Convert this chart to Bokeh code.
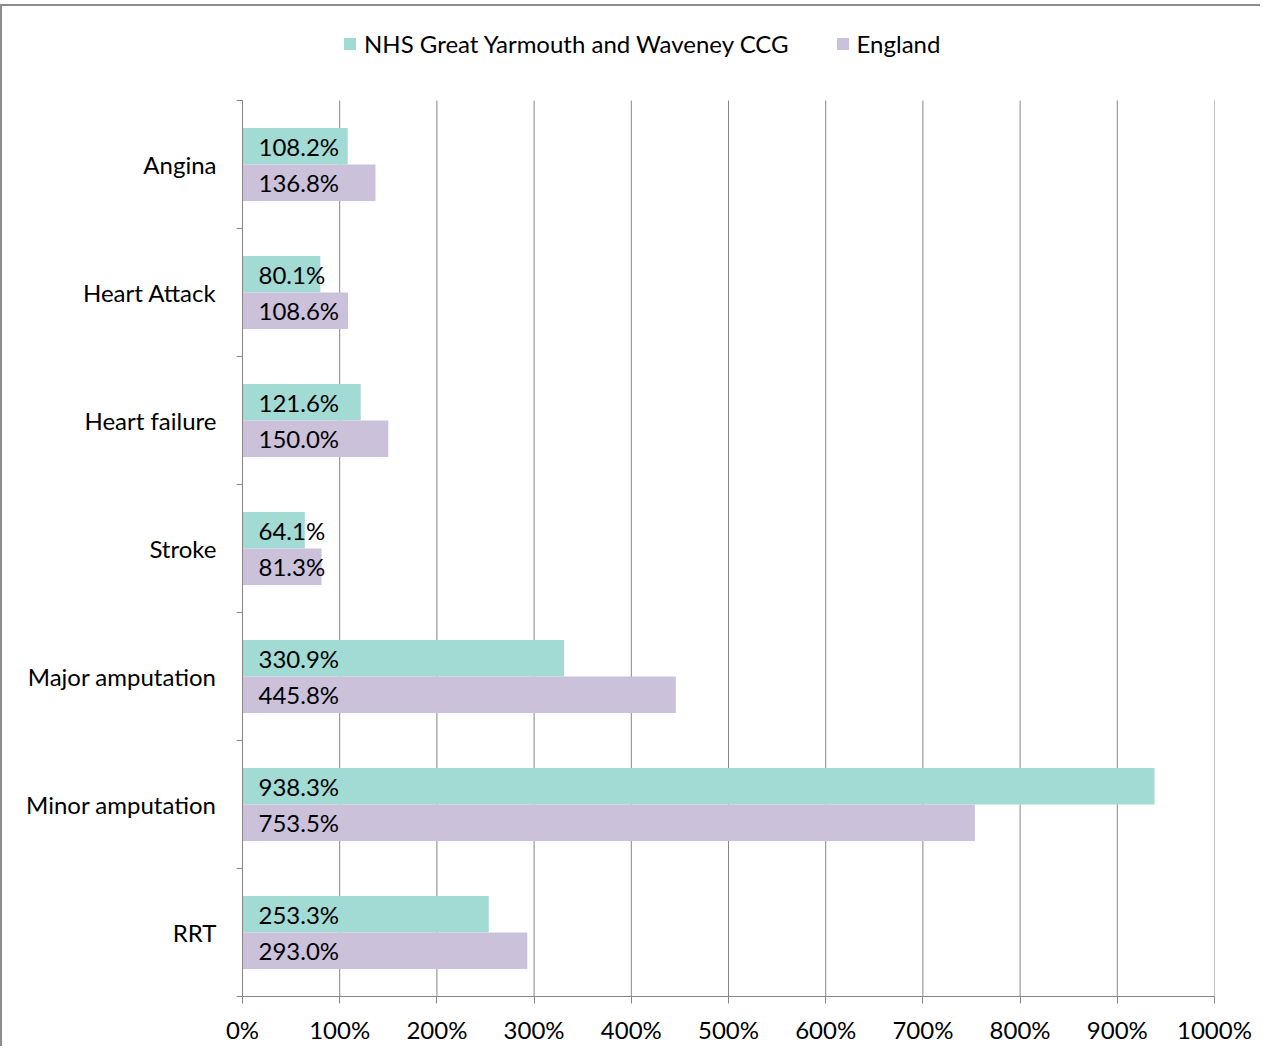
from bokeh.plotting import figure
from bokeh.models import (ColumnDataSource, Range1d, FixedTicker, Legend, LegendItem)
from bokeh.core.properties import value
from bokeh.embed import file_html
from bokeh.resources import INLINE

categories = ["Angina", "Heart Attack", "Heart failure", "Stroke",
              "Major amputation", "Minor amputation", "RRT"]
ccg_values = [108.2, 80.1, 121.6, 64.1, 330.9, 938.3, 253.3]
england_values = [136.8, 108.6, 150.0, 81.3, 445.8, 753.5, 293.0]
series_names = ["NHS Great Yarmouth and Waveney CCG", "England"]
x_ticks = [0, 100, 200, 300, 400, 500, 600, 700, 800, 900, 1000]
x_tick_labels = ["0%", "100%", "200%", "300%", "400%", "500%", "600%",
                 "700%", "800%", "900%", "1000%"]

FONT = "Lato"
FS = "24px"
TEAL = "#A2DAD4"
PURPLE = "#CCC1DB"
GRAY = "#868686"

n = len(categories)
centers = [n - 0.5 - i for i in range(n)]
off = 0.1425
bh = 0.285
top_room = 0.625  # space above the bars for the legend

src_ccg = ColumnDataSource(dict(
    y=[c + off for c in centers], v=ccg_values,
    lab=["%.1f%%" % v for v in ccg_values]))
src_eng = ColumnDataSource(dict(
    y=[c - off for c in centers], v=england_values,
    lab=["%.1f%%" % v for v in england_values]))

p = figure(frame_width=972, frame_height=976, output_backend="svg",
           toolbar_location=None,
           x_range=Range1d(0, 1000), y_range=Range1d(0, n + top_room),
           min_border_left=240, min_border_right=46,
           min_border_top=14, min_border_bottom=50)
p.outline_line_color = None
p.background_fill_color = "white"
p.border_fill_color = "white"
p.styles = {"border-top": "2px solid #8C8C8C", "border-left": "2px solid #8C8C8C",
            "margin-top": "4px"}

# vertical gridlines, limited to the category area
grid_src = ColumnDataSource(dict(x=x_ticks, y0=[0] * len(x_ticks),
                                 y1=[n] * len(x_ticks)))
p.segment(x0="x", y0="y0", x1="x", y1="y1", source=grid_src,
          line_color=GRAY, line_width=1, level="underlay")

r1 = p.hbar(y="y", left=0, right="v", height=bh, source=src_ccg,
            fill_color=TEAL, line_color=None)
r2 = p.hbar(y="y", left=0, right="v", height=bh, source=src_eng,
            fill_color=PURPLE, line_color=None)

for s in (src_ccg, src_eng):
    p.text(x=0, y="y", text="lab", source=s, x_offset=16,
           text_font=value(FONT), text_font_size=FS, text_color="black",
           text_baseline="middle", text_align="left")

# x axis
xa = p.xaxis[0]
xa.ticker = FixedTicker(ticks=x_ticks)
xa.major_label_overrides = {t: l for t, l in zip(x_ticks, x_tick_labels)}
xa.axis_line_color = GRAY
xa.major_tick_line_color = GRAY
xa.major_tick_out = 7
xa.major_tick_in = 0
xa.minor_tick_line_color = None
xa.major_label_standoff = 11
xa.major_label_text_font = FONT
xa.major_label_text_font_size = FS
xa.major_label_text_color = "black"

# y axis
ya = p.yaxis[0]
ya.bounds = (0, n)
ya.ticker = FixedTicker(ticks=centers, minor_ticks=list(range(0, n + 1)))
ya.major_label_overrides = {c: cat for c, cat in zip(centers, categories)}
ya.axis_line_color = GRAY
ya.major_tick_line_color = None
ya.major_tick_out = 0
ya.major_tick_in = 0
ya.minor_tick_line_color = GRAY
ya.minor_tick_out = 6
ya.minor_tick_in = 0
ya.major_label_standoff = 20
ya.major_label_text_font = FONT
ya.major_label_text_font_size = FS
ya.major_label_text_color = "black"

p.xgrid.grid_line_color = None
p.ygrid.grid_line_color = None

legend = Legend(items=[LegendItem(label=series_names[0], renderers=[r1]),
                       LegendItem(label=series_names[1], renderers=[r2])],
                orientation="horizontal", location=(100, 938),
                label_text_font=FONT, label_text_font_size=FS,
                label_text_color="black",
                glyph_width=15, glyph_height=15, spacing=46,
                label_standoff=7, border_line_color=None,
                background_fill_alpha=0, padding=0, margin=0)
p.add_layout(legend, "center")

open("out.html", "w").write(file_html(p, INLINE))
